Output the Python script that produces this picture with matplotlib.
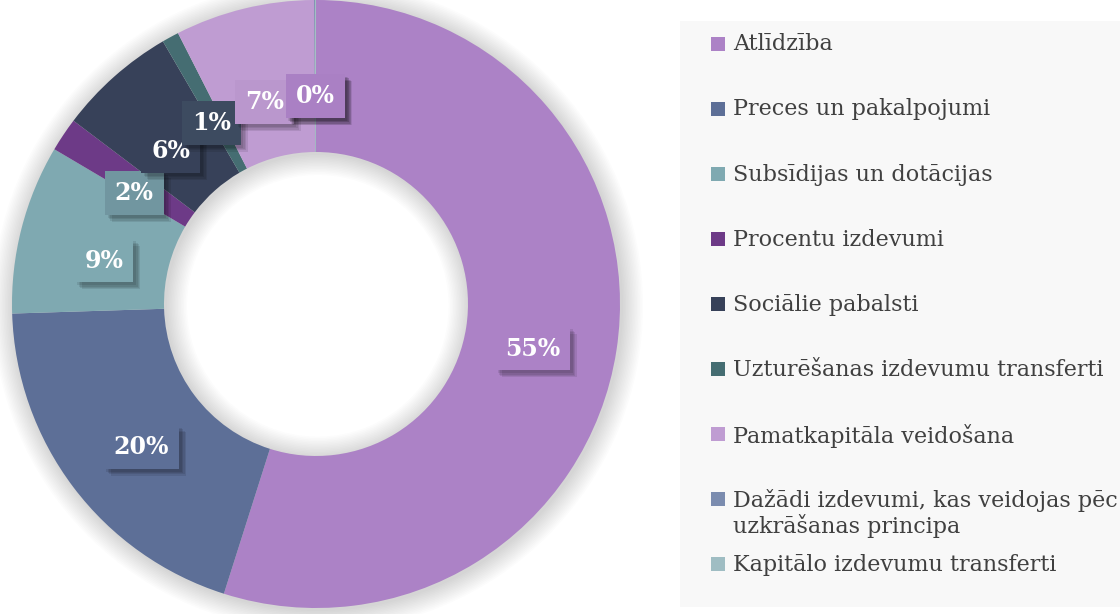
import matplotlib
matplotlib.use('Agg')
import matplotlib.pyplot as plt
import matplotlib.patheffects as pe
import matplotlib.transforms as mtransforms
from matplotlib.patches import Wedge, Rectangle
import numpy as np

categories = [
    'Atlīdzība',
    'Preces un pakalpojumi',
    'Subsīdijas un dotācijas',
    'Procentu izdevumi',
    'Sociālie pabalsti',
    'Uzturēšanas izdevumu transferti',
    'Pamatkapitāla veidošana',
    'Dažādi izdevumi, kas veidojas pēc\nuzkrāšanas principa',
    'Kapitālo izdevumu transferti',
]
shares = [54.9, 19.6, 9.0, 1.8, 6.3, 0.9, 7.4, 0.05, 0.05]
colors = ['#AC82C6', '#5D6F97', '#7FA9B1', '#6D3A87', '#374159',
          '#456D72', '#BF9CD2', '#7B8CAF', '#9FBDC3']
box_colors = ['#AC82C6', '#5D6F97', '#7FA9B1', '#7196A0', '#374159',
              '#3D4B60', '#BA97CD', '#AA80C4', '#AA80C4']

plt.rcParams['font.family'] = ['DejaVu Serif']

fig = plt.figure(figsize=(11.2, 6.14), dpi=100)
ax = fig.add_axes([12 / 1120, 6 / 614, 608 / 1120, 608 / 614])

# soft glow around the ring
for d in np.linspace(0.07, 0.004, 14):
    ax.add_patch(Wedge((0.006, -0.006), 1 + d, 0, 360, width=0.5 + 2 * d,
                       fc='black', alpha=0.011, lw=0, zorder=0, clip_on=False))

wedges, texts, autotexts = ax.pie(
    shares, colors=colors, startangle=90, counterclock=False, radius=1,
    wedgeprops=dict(width=0.5, linewidth=0), autopct='%.0f%%',
    pctdistance=0.72)

# blurred drop shadow for the label boxes
shadow = [pe.SimplePatchShadow(offset=(k, -k), shadow_rgbFace='black', alpha=0.09)
          for k in (5, 4, 3, 2)]
# labels sit a little below the slice midpoints in the original
nudge = mtransforms.ScaledTranslation(0, -11 / 100, fig.dpi_scale_trans)

for t, bc in zip(autotexts, box_colors):
    t.set_fontsize(17)
    t.set_fontweight('bold')
    t.set_color('white')
    t.set_transform(ax.transData + nudge)
    t.set_bbox(dict(boxstyle='square,pad=0.42', fc=bc, ec='none'))
    t.get_bbox_patch().set_path_effects(shadow + [pe.Normal()])

ax.set_xlim(-1, 1)
ax.set_ylim(-1, 1)
ax.set_aspect('equal')
ax.axis('off')

# legend panel
lax = fig.add_axes([680 / 1120, 7 / 614, 440 / 1120, 586 / 614])
lax.set_facecolor('#F8F8F8')
for s in lax.spines.values():
    s.set_visible(False)
lax.set_xticks([])
lax.set_yticks([])
lax.set_xlim(0, 440)
lax.set_ylim(586, 0)

for i, (name, c) in enumerate(zip(categories, colors)):
    y = 22.5 + 65 * i
    lax.add_patch(Rectangle((31, y - 7), 14, 14, fc=c, ec='none'))
    lax.text(53, y - 10, name, fontsize=16, color='#404040',
             va='top', ha='left', linespacing=1.12)

fig.savefig('out.png', dpi=100)
